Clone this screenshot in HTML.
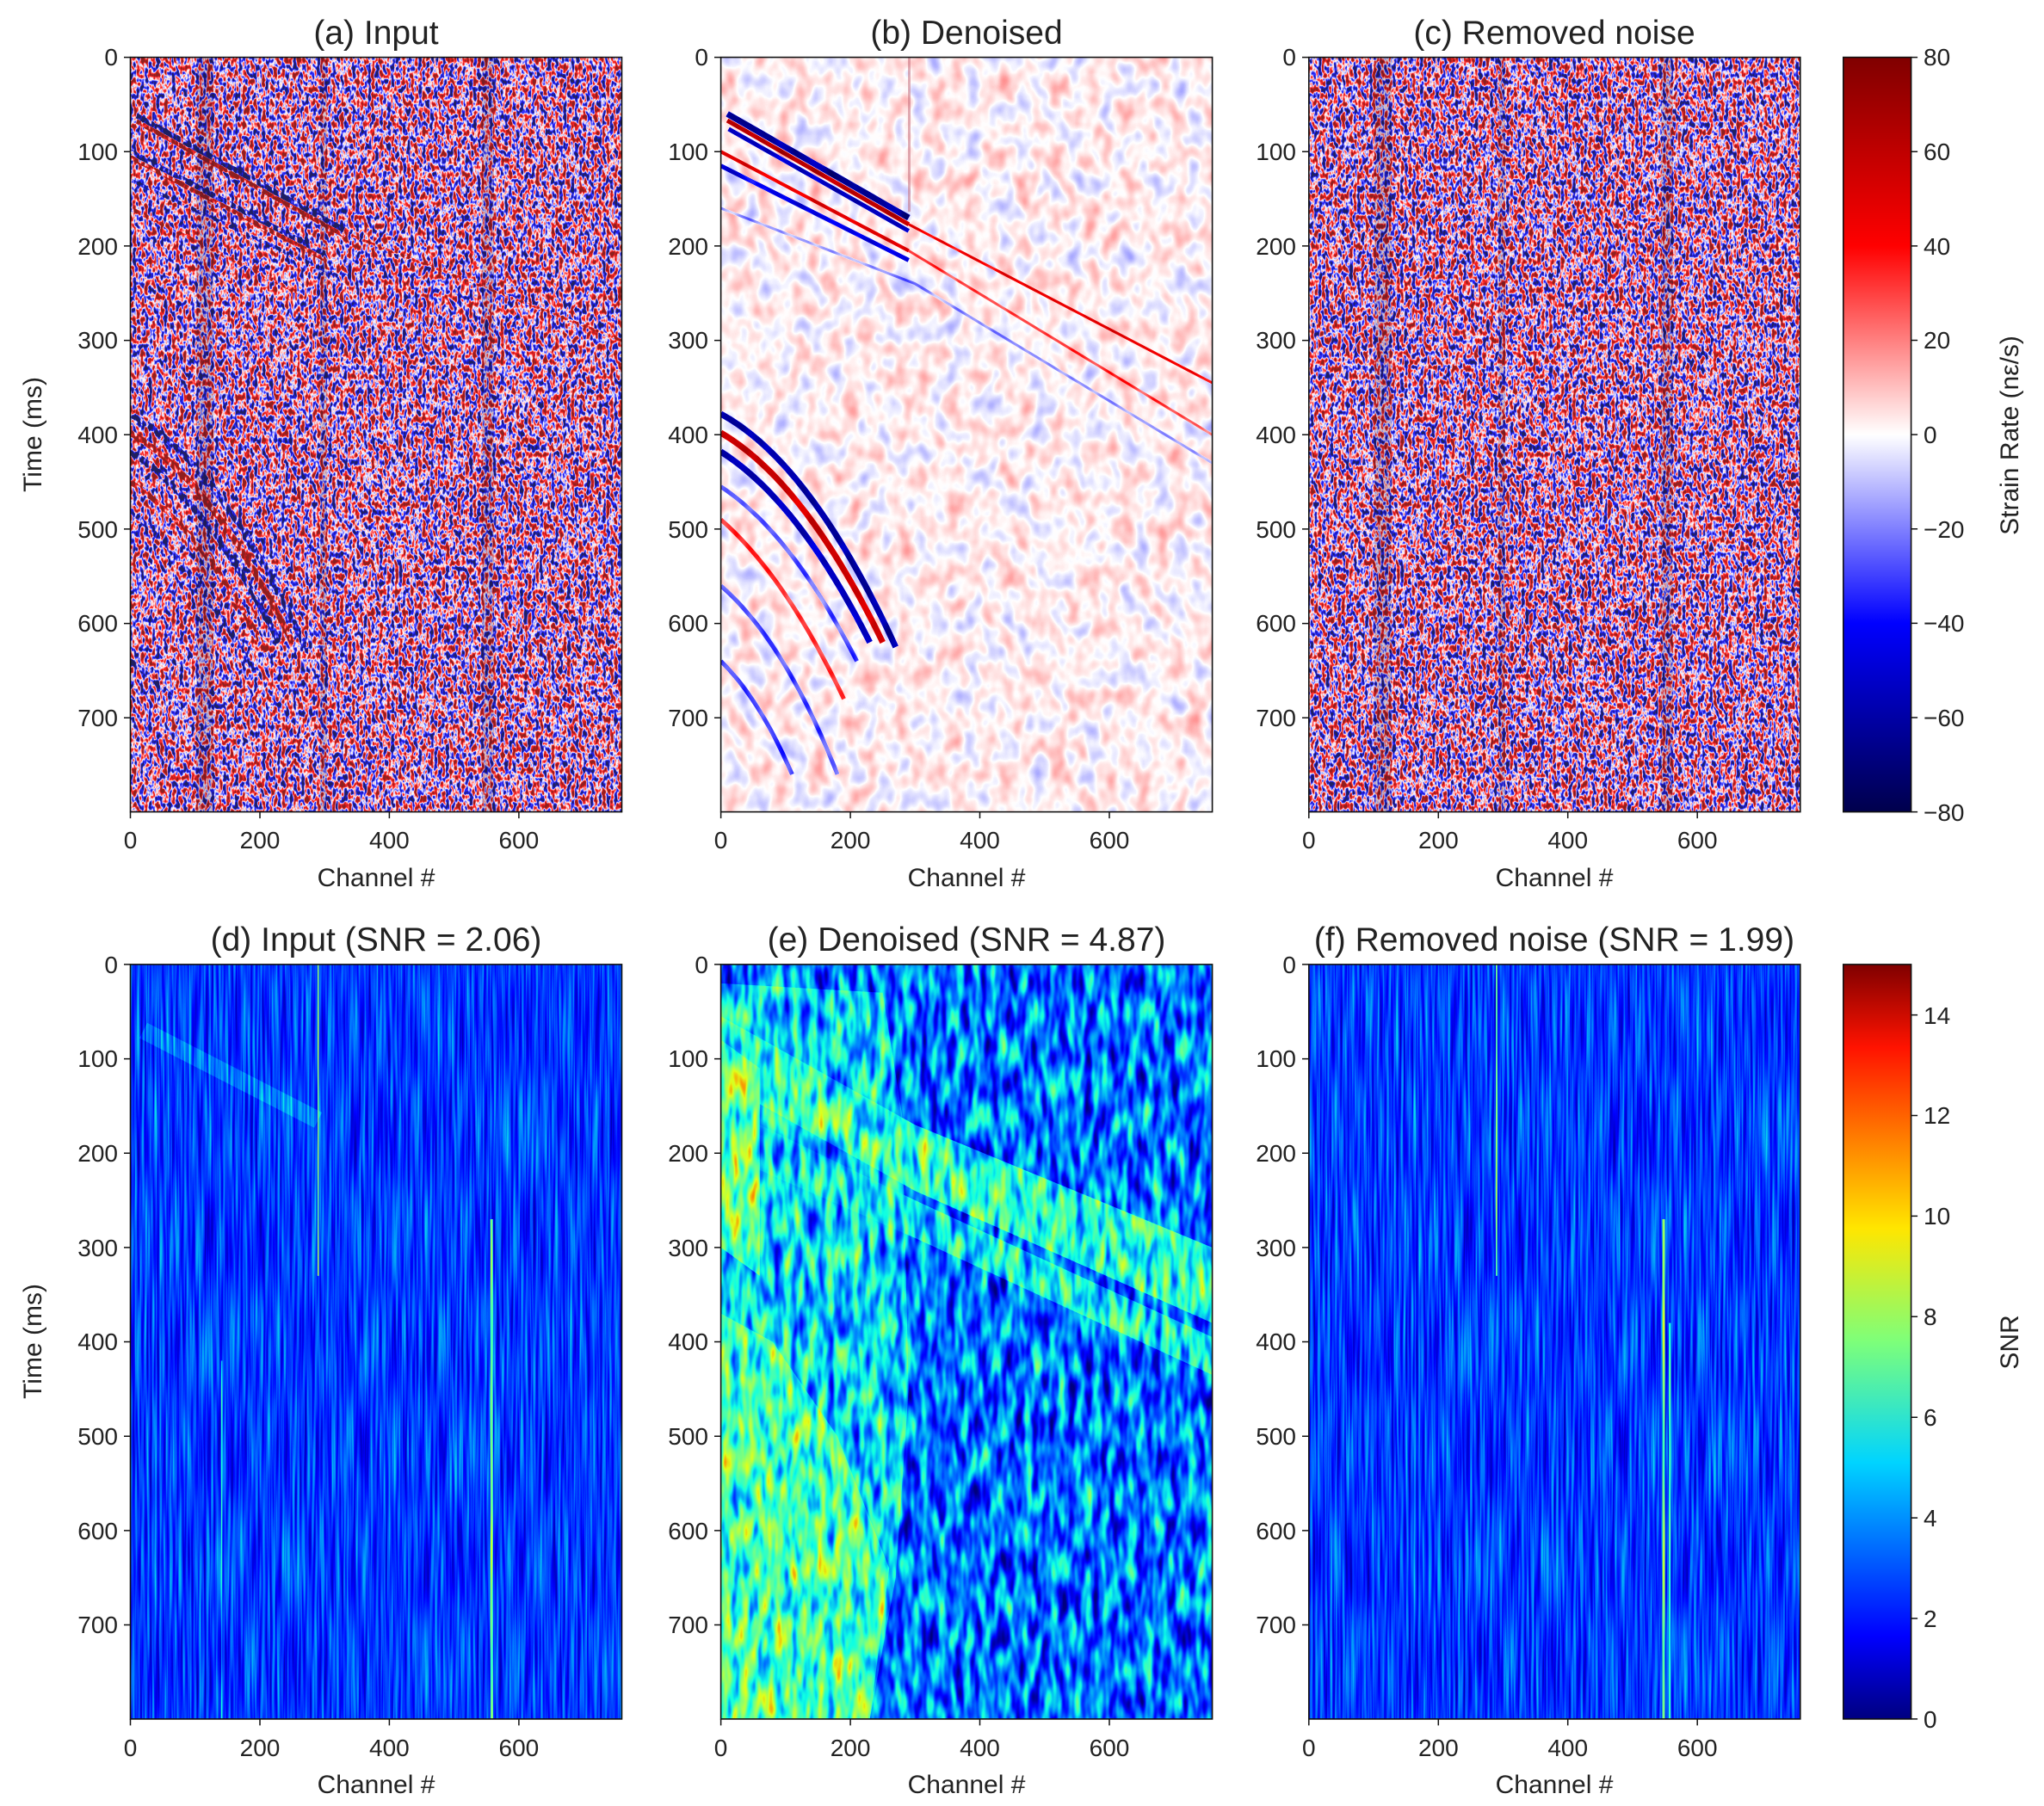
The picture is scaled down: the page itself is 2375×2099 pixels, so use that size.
<!DOCTYPE html>
<html><head><meta charset="utf-8"><style>
html,body{margin:0;padding:0;background:#fff;}
svg{display:block;}
text{font-family:"Liberation Sans","DejaVu Sans",sans-serif;fill:#222;}
.t{font-size:39px;text-anchor:middle;}
.k{font-size:28px;}
.ky{font-size:28px;text-anchor:end;}
.kx{font-size:28px;text-anchor:middle;}
.l{font-size:30px;text-anchor:middle;}
</style></head><body>
<svg width="2375" height="2099" viewBox="0 0 2375 2099" xmlns="http://www.w3.org/2000/svg">
<defs>
<filter id="fa" filterUnits="userSpaceOnUse" x="0" y="0" width="2375" height="2099" color-interpolation-filters="sRGB">
 <feTurbulence type="fractalNoise" baseFrequency="0.22 0.12" numOctaves="2" seed="3" result="n"/>
 <feColorMatrix in="n" type="matrix" values="1 0 0 0 0 1 0 0 0 0 1 0 0 0 0 0 0 0 0 1" result="g"/>
 <feComposite in="SourceGraphic" in2="g" operator="arithmetic" k1="0" k2="1" k3="2.3" k4="-1.15" result="s"/>
 <feComponentTransfer in="s">
  <feFuncR type="table" tableValues="0 0 1 1 0.5"/>
  <feFuncG type="table" tableValues="0 0 1 0 0"/>
  <feFuncB type="table" tableValues="0.3 1 1 0 0"/>
  <feFuncA type="table" tableValues="1 1"/>
 </feComponentTransfer>
</filter>
<filter id="fb" filterUnits="userSpaceOnUse" x="0" y="0" width="2375" height="2099" color-interpolation-filters="sRGB">
 <feTurbulence type="fractalNoise" baseFrequency="0.05 0.035" numOctaves="2" seed="7" result="n"/>
 <feColorMatrix in="n" type="matrix" values="1 0 0 0 0 1 0 0 0 0 1 0 0 0 0 0 0 0 0 1" result="g"/>
 <feComposite in="SourceGraphic" in2="g" operator="arithmetic" k1="0" k2="1" k3="0.25" k4="-0.125" result="s"/>
 <feComponentTransfer in="s">
  <feFuncR type="table" tableValues="0 0 1 1 0.5"/>
  <feFuncG type="table" tableValues="0 0 1 0 0"/>
  <feFuncB type="table" tableValues="0.3 1 1 0 0"/>
  <feFuncA type="table" tableValues="1 1"/>
 </feComponentTransfer>
</filter>
<filter id="fd" filterUnits="userSpaceOnUse" x="0" y="0" width="2375" height="2099" color-interpolation-filters="sRGB">
 <feTurbulence type="fractalNoise" baseFrequency="0.35 0.008" numOctaves="2" seed="11" result="n"/>
 <feColorMatrix in="n" type="matrix" values="1 0 0 0 0 1 0 0 0 0 1 0 0 0 0 0 0 0 0 1" result="g"/>
 <feComposite in="SourceGraphic" in2="g" operator="arithmetic" k1="0" k2="1" k3="0.4" k4="-0.2" result="s"/>
 <feComponentTransfer in="s">
  <feFuncR type="table" tableValues="0 0 0 0.05 0.48 0.88 1 1 0.5"/>
  <feFuncG type="table" tableValues="0 0 0.5 1 1 1 0.5 0.05 0"/>
  <feFuncB type="table" tableValues="0.5 1 1 0.9 0.5 0.1 0 0 0"/>
  <feFuncA type="table" tableValues="1 1"/>
 </feComponentTransfer>
</filter>
<filter id="fe" filterUnits="userSpaceOnUse" x="0" y="0" width="2375" height="2099" color-interpolation-filters="sRGB">
 <feTurbulence type="fractalNoise" baseFrequency="0.1 0.025" numOctaves="2" seed="5" result="n"/>
 <feColorMatrix in="n" type="matrix" values="1 0 0 0 0 1 0 0 0 0 1 0 0 0 0 0 0 0 0 1" result="g"/>
 <feComposite in="SourceGraphic" in2="g" operator="arithmetic" k1="0" k2="1" k3="0.75" k4="-0.375" result="s"/>
 <feComponentTransfer in="s">
  <feFuncR type="table" tableValues="0 0 0 0.05 0.48 0.88 1 1 0.5"/>
  <feFuncG type="table" tableValues="0 0 0.5 1 1 1 0.5 0.05 0"/>
  <feFuncB type="table" tableValues="0.5 1 1 0.9 0.5 0.1 0 0 0"/>
  <feFuncA type="table" tableValues="1 1"/>
 </feComponentTransfer>
</filter>
<linearGradient id="cs" x1="0" y1="0" x2="0" y2="1">
 <stop offset="0" stop-color="#800000"/><stop offset="0.25" stop-color="#ff0000"/>
 <stop offset="0.5" stop-color="#ffffff"/><stop offset="0.75" stop-color="#0000ff"/>
 <stop offset="1" stop-color="#00004c"/>
</linearGradient>
<linearGradient id="cj" x1="0" y1="1" x2="0" y2="0">
 <stop offset="0" stop-color="#000080"/><stop offset="0.11" stop-color="#0000ff"/>
 <stop offset="0.34" stop-color="#00d4ff"/><stop offset="0.5" stop-color="#7dff7a"/>
 <stop offset="0.65" stop-color="#ffe600"/><stop offset="0.89" stop-color="#ff1300"/>
 <stop offset="1" stop-color="#800000"/>
</linearGradient>
<clipPath id="ca"><rect x="151.5" y="66.6" width="571" height="877"/></clipPath>
<clipPath id="cb"><rect x="837.6" y="66.6" width="571" height="877"/></clipPath>
<clipPath id="cc"><rect x="1520.8" y="66.6" width="571" height="877"/></clipPath>
<clipPath id="cd"><rect x="151.5" y="1120.9" width="571" height="877"/></clipPath>
<clipPath id="ce"><rect x="837.6" y="1120.9" width="571" height="877"/></clipPath>
<clipPath id="cf"><rect x="1520.8" y="1120.9" width="571" height="877"/></clipPath>
</defs>

<!-- (a) -->
<g clip-path="url(#ca)"><g filter="url(#fa)">
<g transform="translate(151.5,66.6) scale(0.7523,1.0966)">
 <rect x="0" y="0" width="759" height="800" fill="rgb(128,128,128)"/>
 <polyline points="10,62 330,183" fill="none" stroke="#0a0a0a" stroke-width="6" vector-effect="non-scaling-stroke"/>
 <polyline points="10,68 330,189" fill="none" stroke="#f5f5f5" stroke-width="5" vector-effect="non-scaling-stroke"/>
 <polyline points="330,186 759,300" fill="none" stroke="#c8c8c8" stroke-width="3" vector-effect="non-scaling-stroke"/>
 <polyline points="0,100 300,208" fill="none" stroke="#202020" stroke-width="6" vector-effect="non-scaling-stroke"/>
 <polyline points="0,106 300,214" fill="none" stroke="#f0f0f0" stroke-width="5" vector-effect="non-scaling-stroke"/>
 <polyline points="0,130 320,232" fill="none" stroke="#404040" stroke-width="4" vector-effect="non-scaling-stroke"/>
 <polyline points="0,160 260,250" fill="none" stroke="#c0c0c0" stroke-width="4" vector-effect="non-scaling-stroke"/>
 <path d="M0,378 Q140,430 270,625" fill="none" stroke="#202020" stroke-width="7" vector-effect="non-scaling-stroke"/>
 <path d="M0,398 Q130,450 250,620" fill="none" stroke="#f0f0f0" stroke-width="7" vector-effect="non-scaling-stroke"/>
 <path d="M0,418 Q120,470 230,620" fill="none" stroke="#202020" stroke-width="7" vector-effect="non-scaling-stroke"/>
 <path d="M0,450 Q110,500 210,630" fill="none" stroke="#d8d8d8" stroke-width="6" vector-effect="non-scaling-stroke"/>
 <path d="M0,480 Q100,540 190,650" fill="none" stroke="#404040" stroke-width="6" vector-effect="non-scaling-stroke"/>
 <path d="M0,640 Q40,660 80,690" fill="none" stroke="#404040" stroke-width="6" vector-effect="non-scaling-stroke"/>
</g></g>
<rect x="151.5" y="66.6" width="571" height="877" fill="#ffffff" opacity="0.12"/>
<g fill="#1a0a30" opacity="0.18"><rect x="228" y="66" width="14" height="880"/><rect x="238" y="66" width="10" height="880"/><rect x="372" y="66" width="8" height="880"/><rect x="560" y="66" width="14" height="880"/></g>
</g>

<!-- (b) -->
<g clip-path="url(#cb)"><g filter="url(#fb)">
<g transform="translate(837.6,66.6) scale(0.7523,1.0966)">
 <rect x="0" y="0" width="759" height="800" fill="rgb(130,130,130)"/>
 <polyline points="10,60 290,170" fill="none" stroke="rgb(25,25,25)" stroke-width="7" vector-effect="non-scaling-stroke"/>
 <polyline points="10,67 290,177" fill="none" stroke="rgb(225,225,225)" stroke-width="5" vector-effect="non-scaling-stroke"/>
 <polyline points="290,177 759,345" fill="none" stroke="rgb(200,200,200)" stroke-width="3" vector-effect="non-scaling-stroke"/>
 <polyline points="12,76 290,184" fill="none" stroke="rgb(40,40,40)" stroke-width="5" vector-effect="non-scaling-stroke"/>
 <polyline points="0,100 290,205" fill="none" stroke="rgb(205,205,205)" stroke-width="4" vector-effect="non-scaling-stroke"/>
 <polyline points="290,205 759,400" fill="none" stroke="rgb(175,175,175)" stroke-width="3" vector-effect="non-scaling-stroke"/>
 <polyline points="0,115 290,215" fill="none" stroke="rgb(55,55,55)" stroke-width="5" vector-effect="non-scaling-stroke"/>
 <polyline points="0,160 300,240 759,430" fill="none" stroke="rgb(100,100,100)" stroke-width="3" vector-effect="non-scaling-stroke"/>
 <path d="M0,378 Q140,430 270,625" fill="none" stroke="rgb(35,35,35)" stroke-width="7" vector-effect="non-scaling-stroke"/>
 <path d="M0,398 Q130,450 250,620" fill="none" stroke="rgb(215,215,215)" stroke-width="7" vector-effect="non-scaling-stroke"/>
 <path d="M0,418 Q120,470 230,620" fill="none" stroke="rgb(40,40,40)" stroke-width="7" vector-effect="non-scaling-stroke"/>
 <path d="M0,455 Q110,505 210,640" fill="none" stroke="rgb(85,85,85)" stroke-width="5" vector-effect="non-scaling-stroke"/>
 <path d="M0,490 Q100,550 190,680" fill="none" stroke="rgb(180,180,180)" stroke-width="5" vector-effect="non-scaling-stroke"/>
 <path d="M0,560 Q100,620 180,760" fill="none" stroke="rgb(85,85,85)" stroke-width="5" vector-effect="non-scaling-stroke"/>
 <path d="M0,640 Q60,680 110,760" fill="none" stroke="rgb(80,80,80)" stroke-width="5" vector-effect="non-scaling-stroke"/>
</g></g>
<rect x="1055" y="66" width="3" height="180" fill="#c06070" opacity="0.5"/>
</g>

<!-- (c) -->
<g clip-path="url(#cc)"><g filter="url(#fa)">
<rect x="1520.8" y="66.6" width="571" height="877" fill="rgb(128,128,128)"/>
</g>
<rect x="1520.8" y="66.6" width="571" height="877" fill="#ffffff" opacity="0.12"/>
<g fill="#1a0a30" opacity="0.18"><rect x="1597" y="66" width="14" height="880"/><rect x="1607" y="66" width="10" height="880"/><rect x="1741" y="66" width="8" height="880"/><rect x="1930" y="66" width="14" height="880"/></g>
</g>

<!-- (d) -->
<g clip-path="url(#cd)"><g filter="url(#fd)">
<g transform="translate(151.5,1120.9) scale(0.7523,1.0966)">
 <rect x="0" y="0" width="759" height="800" fill="rgb(46,46,46)"/>
 <polyline points="20,70 290,165" fill="none" stroke="rgb(62,62,62)" stroke-width="20" vector-effect="non-scaling-stroke"/>
 <rect x="289" y="0" width="2" height="330" fill="rgb(150,150,150)"/>
 <rect x="556" y="270" width="4" height="530" fill="rgb(130,130,130)"/>
 <rect x="140" y="420" width="2" height="380" fill="rgb(90,90,90)"/>
</g></g></g>

<!-- (e) -->
<g clip-path="url(#ce)"><g filter="url(#fe)">
<g transform="translate(837.6,1120.9) scale(0.7523,1.0966)">
 <rect x="0" y="0" width="759" height="800" fill="rgb(60,60,60)"/>
 <polygon points="0,20 250,30 280,160 290,450 270,650 230,800 0,800" fill="rgb(85,85,85)"/>
 <polygon points="0,55 300,170 759,300 759,380 300,240 0,125" fill="rgb(105,105,105)"/>
 <polygon points="0,150 300,250 759,395 759,435 300,290 0,200" fill="rgb(92,92,92)"/>
 <polygon points="0,370 80,400 180,500 260,640 230,800 0,800" fill="rgb(112,112,112)"/>
 <polygon points="0,80 60,110 60,330 0,300" fill="rgb(125,125,125)"/>
</g></g></g>

<!-- (f) -->
<g clip-path="url(#cf)"><g filter="url(#fd)">
<g transform="translate(1520.8,1120.9) scale(0.7523,1.0966)">
 <rect x="0" y="0" width="759" height="800" fill="rgb(46,46,46)"/>
 <rect x="289" y="0" width="2" height="330" fill="rgb(150,150,150)"/>
 <rect x="546" y="270" width="4" height="530" fill="rgb(130,130,130)"/>
 <rect x="556" y="380" width="3" height="420" fill="rgb(110,110,110)"/>
</g></g></g>

<!-- axes frames -->
<g fill="none" stroke="#111" stroke-width="1.6">
<rect x="151.5" y="66.6" width="571" height="877"/>
<rect x="837.6" y="66.6" width="571" height="877"/>
<rect x="1520.8" y="66.6" width="571" height="877"/>
<rect x="151.5" y="1120.9" width="571" height="877"/>
<rect x="837.6" y="1120.9" width="571" height="877"/>
<rect x="1520.8" y="1120.9" width="571" height="877"/>
<rect x="2141.8" y="66.6" width="78.8" height="877" fill="url(#cs)"/>
<rect x="2141.8" y="1120.9" width="78.8" height="877" fill="url(#cj)"/>
</g>

<!-- ticks -->
<g stroke="#111" stroke-width="1.5">
<path d="M144,66.6h7.5M144,176.3h7.5M144,285.9h7.5M144,395.6h7.5M144,505.2h7.5M144,614.9h7.5M144,724.6h7.5M144,834.2h7.5"/>
<path d="M830,66.6h7.5M830,176.3h7.5M830,285.9h7.5M830,395.6h7.5M830,505.2h7.5M830,614.9h7.5M830,724.6h7.5M830,834.2h7.5"/>
<path d="M1513,66.6h7.5M1513,176.3h7.5M1513,285.9h7.5M1513,395.6h7.5M1513,505.2h7.5M1513,614.9h7.5M1513,724.6h7.5M1513,834.2h7.5"/>
<path d="M144,1120.9h7.5M144,1230.6h7.5M144,1340.2h7.5M144,1449.9h7.5M144,1559.5h7.5M144,1669.2h7.5M144,1778.9h7.5M144,1888.5h7.5"/>
<path d="M830,1120.9h7.5M830,1230.6h7.5M830,1340.2h7.5M830,1449.9h7.5M830,1559.5h7.5M830,1669.2h7.5M830,1778.9h7.5M830,1888.5h7.5"/>
<path d="M1513,1120.9h7.5M1513,1230.6h7.5M1513,1340.2h7.5M1513,1449.9h7.5M1513,1559.5h7.5M1513,1669.2h7.5M1513,1778.9h7.5M1513,1888.5h7.5"/>
<path d="M151.5,943.6v7.5M302,943.6v7.5M452.4,943.6v7.5M602.9,943.6v7.5M837.6,943.6v7.5M988.1,943.6v7.5M1138.5,943.6v7.5M1289,943.6v7.5M1520.8,943.6v7.5M1671.3,943.6v7.5M1821.7,943.6v7.5M1972.2,943.6v7.5"/>
<path d="M151.5,1997.9v7.5M302,1997.9v7.5M452.4,1997.9v7.5M602.9,1997.9v7.5M837.6,1997.9v7.5M988.1,1997.9v7.5M1138.5,1997.9v7.5M1289,1997.9v7.5M1520.8,1997.9v7.5M1671.3,1997.9v7.5M1821.7,1997.9v7.5M1972.2,1997.9v7.5"/>
<path d="M2220.6,66.6h7.5M2220.6,176.2h7.5M2220.6,285.9h7.5M2220.6,395.5h7.5M2220.6,505.1h7.5M2220.6,614.7h7.5M2220.6,724.4h7.5M2220.6,834h7.5M2220.6,943.6h7.5"/>
<path d="M2220.6,1997.9h7.5M2220.6,1881h7.5M2220.6,1764.1h7.5M2220.6,1647.2h7.5M2220.6,1530.3h7.5M2220.6,1413.4h7.5M2220.6,1296.5h7.5M2220.6,1179.6h7.5"/>
</g>

<!-- titles -->
<text class="t" x="437" y="51">(a) Input</text>
<text class="t" x="1123" y="51">(b) Denoised</text>
<text class="t" x="1806" y="51">(c) Removed noise</text>
<text class="t" x="437" y="1105">(d) Input (SNR = 2.06)</text>
<text class="t" x="1123" y="1105">(e) Denoised (SNR = 4.87)</text>
<text class="t" x="1806" y="1105">(f) Removed noise (SNR = 1.99)</text>

<g class="ky">
<text x="137" y="76">0</text><text x="137" y="186">100</text><text x="137" y="296">200</text><text x="137" y="405">300</text><text x="137" y="515">400</text><text x="137" y="625">500</text><text x="137" y="734">600</text><text x="137" y="844">700</text>
<text x="823" y="76">0</text><text x="823" y="186">100</text><text x="823" y="296">200</text><text x="823" y="405">300</text><text x="823" y="515">400</text><text x="823" y="625">500</text><text x="823" y="734">600</text><text x="823" y="844">700</text>
<text x="1506" y="76">0</text><text x="1506" y="186">100</text><text x="1506" y="296">200</text><text x="1506" y="405">300</text><text x="1506" y="515">400</text><text x="1506" y="625">500</text><text x="1506" y="734">600</text><text x="1506" y="844">700</text>
<text x="137" y="1131">0</text><text x="137" y="1240">100</text><text x="137" y="1350">200</text><text x="137" y="1460">300</text><text x="137" y="1569">400</text><text x="137" y="1679">500</text><text x="137" y="1789">600</text><text x="137" y="1898">700</text>
<text x="823" y="1131">0</text><text x="823" y="1240">100</text><text x="823" y="1350">200</text><text x="823" y="1460">300</text><text x="823" y="1569">400</text><text x="823" y="1679">500</text><text x="823" y="1789">600</text><text x="823" y="1898">700</text>
<text x="1506" y="1131">0</text><text x="1506" y="1240">100</text><text x="1506" y="1350">200</text><text x="1506" y="1460">300</text><text x="1506" y="1569">400</text><text x="1506" y="1679">500</text><text x="1506" y="1789">600</text><text x="1506" y="1898">700</text>
</g>
<g class="kx">
<text x="151.5" y="986">0</text><text x="302" y="986">200</text><text x="452.4" y="986">400</text><text x="602.9" y="986">600</text>
<text x="837.6" y="986">0</text><text x="988.1" y="986">200</text><text x="1138.5" y="986">400</text><text x="1289" y="986">600</text>
<text x="1520.8" y="986">0</text><text x="1671.3" y="986">200</text><text x="1821.7" y="986">400</text><text x="1972.2" y="986">600</text>
<text x="151.5" y="2041">0</text><text x="302" y="2041">200</text><text x="452.4" y="2041">400</text><text x="602.9" y="2041">600</text>
<text x="837.6" y="2041">0</text><text x="988.1" y="2041">200</text><text x="1138.5" y="2041">400</text><text x="1289" y="2041">600</text>
<text x="1520.8" y="2041">0</text><text x="1671.3" y="2041">200</text><text x="1821.7" y="2041">400</text><text x="1972.2" y="2041">600</text>
</g>
<g class="l">
<text x="437" y="1030">Channel #</text><text x="1123" y="1030">Channel #</text><text x="1806" y="1030">Channel #</text>
<text x="437" y="2084">Channel #</text><text x="1123" y="2084">Channel #</text><text x="1806" y="2084">Channel #</text>
<text transform="translate(48,505) rotate(-90)">Time (ms)</text>
<text transform="translate(48,1559) rotate(-90)">Time (ms)</text>
<text transform="translate(2345,506) rotate(-90)">Strain Rate (nε/s)</text>
<text transform="translate(2345,1560) rotate(-90)">SNR</text>
</g>
<g class="k">
<text x="2235" y="76">80</text><text x="2235" y="186">60</text><text x="2235" y="296">40</text><text x="2235" y="405">20</text><text x="2235" y="515">0</text><text x="2235" y="625">−20</text><text x="2235" y="734">−40</text><text x="2235" y="844">−60</text><text x="2235" y="954">−80</text>
<text x="2235" y="2008">0</text><text x="2235" y="1891">2</text><text x="2235" y="1774">4</text><text x="2235" y="1657">6</text><text x="2235" y="1540">8</text><text x="2235" y="1423">10</text><text x="2235" y="1306">12</text><text x="2235" y="1190">14</text>
</g>
</svg>
</body></html>
